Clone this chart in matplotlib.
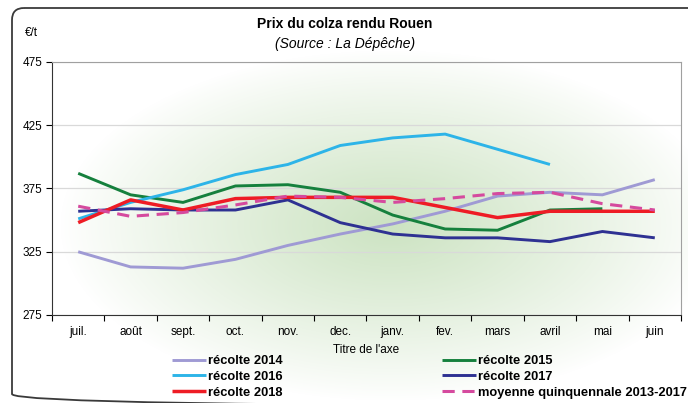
import numpy as np
import matplotlib
matplotlib.use('Agg')
import matplotlib.pyplot as plt
from matplotlib.patches import FancyBboxPatch

plt.rcParams['font.family'] = ['Liberation Sans', 'DejaVu Sans']

mois = ['juil.', 'août', 'sept.', 'oct.', 'nov.', 'dec.', 'janv.', 'fev.', 'mars', 'avril', 'mai', 'juin']

recolte_2014 = [325, 313, 312, 319, 330, 339, 347, 357, 369, 372, 370, 382]
recolte_2015 = [387, 370, 364, 377, 378, 372, 354, 343, 342, 358, 359, None]
recolte_2016 = [351, 364, 374, 386, 394, 409, 415, 418, 406, 394, None, None]
recolte_2017 = [357, 359, 358, 358, 366, 348, 339, 336, 336, 333, 341, 336]
recolte_2018 = [348, 366, 358, 367, 368, 368, 368, 360, 352, 357, 357, 357]
moyenne_5ans = [361, 353, 356, 362, 369, 368, 364, 367, 371, 372, 363, 358]

series = [
    ('récolte 2014', recolte_2014, '#9f9ad4', '-', 2.1),
    ('récolte 2015', recolte_2015, '#15803d', '-', 2.1),
    ('récolte 2016', recolte_2016, '#2db4e8', '-', 2.1),
    ('récolte 2017', recolte_2017, '#2e3192', '-', 2.1),
    ('récolte 2018', recolte_2018, '#ee1c25', '-', 2.5),
    ('moyenne quinquennale 2013-2017', moyenne_5ans, '#d54a9e', (0, (4, 2.5)), 2.2),
]

W, H = 688, 403
fig = plt.figure(figsize=(W / 100, H / 100), dpi=100)

# fond en degrade vert (remplissage de la zone du graphique)
bg = fig.add_axes([0, 0, 1, 1], zorder=-10)
yy, xx = np.mgrid[0:H, 0:W]
r = np.sqrt(((xx - 390) / 330.0) ** 2 + ((yy - 225) / 175.0) ** 2)
t = np.clip(1 - r, 0, 1) ** 0.9
centre = np.array([0.80, 0.89, 0.76])
img = 1 - t[..., None] * (1 - centre)
bg.imshow(img, extent=[0, W, H, 0], aspect='auto')
bg.set_xlim(0, W)
bg.set_ylim(H, 0)
bg.axis('off')
frame = FancyBboxPatch((12, 8), 720, 398, boxstyle='round,pad=0,rounding_size=12',
                       transform=bg.transData, fill=False, ec='#3a3a3a', lw=1.3,
                       clip_on=True)
bg.add_patch(frame)

ax = fig.add_axes([52 / W, 1 - 315 / H, (681 - 52) / W, (315 - 62) / H])
ax.patch.set_alpha(0)

x = np.arange(len(mois))
handles = []
for nom, vals, col, ls, lw in series:
    v = np.array([np.nan if a is None else a for a in vals], dtype=float)
    h, = ax.plot(x, v, color=col, ls=ls, lw=lw, label=nom, solid_capstyle='butt')
    handles.append(h)

ax.set_xlim(-0.5, 11.5)
ax.set_ylim(275, 475)
ax.set_yticks([275, 325, 375, 425, 475])
ax.set_xticks(x)
ax.set_xticklabels(mois)
ax.set_xticks(np.arange(-0.5, 12, 1), minor=True)
ax.tick_params(axis='x', which='major', length=0, labelsize=8.5, pad=8)
ax.tick_params(axis='x', which='minor', length=4, direction='out', width=0.8)
ax.tick_params(axis='y', length=4, direction='out', width=0.8, labelsize=8.5, pad=3)
ax.grid(axis='y', color='#d9d9d9', lw=0.9)
ax.set_axisbelow(True)
for s in ['top', 'right']:
    ax.spines[s].set_color('#a0a0a0')
for s in ['left', 'bottom']:
    ax.spines[s].set_color('#333333')
ax.set_xlabel("Titre de l'axe", fontsize=8.5, labelpad=4)

fig.text(345 / W, 1 - 24 / H, 'Prix du colza rendu Rouen', ha='center', va='center',
         fontsize=10, fontweight='bold')
fig.text(345 / W, 1 - 44 / H, '(Source : La Dépêche)', ha='center', va='center',
         fontsize=10, style='italic')
fig.text(31 / W, 1 - 33 / H, '€/t', ha='center', va='center', fontsize=8.5)

leg_kw = dict(frameon=False, handlelength=2.6, handletextpad=0.2, labelspacing=0.3,
              prop={'weight': 'bold', 'size': 9.3}, borderpad=0, borderaxespad=0)
l1 = fig.legend([handles[0], handles[2], handles[4]],
                [series[0][0], series[2][0], series[4][0]],
                loc='upper left', bbox_to_anchor=(172 / W, 1 - 355 / H), **leg_kw)
l2 = fig.legend([handles[1], handles[3], handles[5]],
                [series[1][0], series[3][0], series[5][0]],
                loc='upper left', bbox_to_anchor=(442 / W, 1 - 355 / H), **leg_kw)

fig.savefig('out.png', dpi=100)
